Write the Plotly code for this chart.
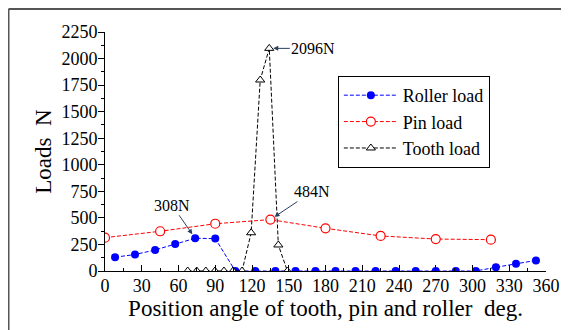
import plotly.graph_objects as go

# roller load (22 rollers, half-pitch offset)
roller_angle = [8.2, 24.5, 40.9, 57.3, 73.6, 90.0, 106.4, 122.7, 139.1, 155.5, 171.8,
                188.2, 204.5, 220.9, 237.3, 253.6, 270.0, 286.4, 302.7, 319.1, 335.5, 351.8]
roller_load = [130, 155, 198, 255, 308, 305, 0, 0, 0, 0, 0,
               0, 0, 0, 0, 0, 0, 0, 0, 35, 68, 100]

# pin load
pin_angle = [0, 45, 90, 135, 180, 225, 270, 315]
pin_load = [314, 374, 445, 484, 402, 330, 301, 295]

# tooth load
tooth_angle = [67.5, 74.9, 82.3, 89.7, 97.1, 104.5, 111.9, 119.3, 126.7, 134.1, 141.5, 148.9]
tooth_load = [0, 0, 0, 0, 0, 0, 0, 360, 1798, 2096, 245, 0]

x_ticks = list(range(0, 361, 30))
y_ticks = list(range(0, 2251, 250))

FONT = "Liberation Serif, Times New Roman, serif"

fig = go.Figure()

fig.add_trace(go.Scatter(
    x=roller_angle, y=roller_load, name='Roller load', mode='lines+markers',
    line=dict(color='#0000ff', width=1, dash='4px,2px'),
    marker=dict(color='#0000ff', size=8, symbol='circle')
))
fig.add_trace(go.Scatter(
    x=pin_angle, y=pin_load, name='Pin load', mode='lines+markers',
    line=dict(color='#ff0000', width=1, dash='4px,2px'),
    marker=dict(color='white', size=9, symbol='circle',
                line=dict(color='#ff0000', width=1.2))
))
fig.add_trace(go.Scatter(
    x=tooth_angle, y=tooth_load, name='Tooth load', mode='lines+markers',
    line=dict(color='black', width=1, dash='4px,2px'),
    marker=dict(color='white', size=8, symbol='triangle-up',
                line=dict(color='black', width=1))
))

# peak value labels
fig.add_annotation(x=134.1, y=2096, text='2096N', showarrow=True, arrowhead=2,
                   arrowsize=1, arrowwidth=1, ax=44, ay=0, standoff=4,
                   font=dict(size=16, family=FONT, color='black'))
fig.add_annotation(x=73.6, y=308, text='308N', showarrow=True, arrowhead=2,
                   arrowsize=1, arrowwidth=1, ax=-23, ay=-33, standoff=5,
                   font=dict(size=16, family=FONT, color='black'))
fig.add_annotation(x=135, y=484, text='484N', showarrow=True, arrowhead=2,
                   arrowsize=1, arrowwidth=1, ax=42, ay=-28, standoff=5,
                   font=dict(size=16, family=FONT, color='black'))

# outer frame lines (top and left)
fig.add_shape(type='line', xref='paper', yref='paper', x0=-0.2188, x1=1.06,
              y0=1.096, y1=1.096, line=dict(color='#555555', width=2))
fig.add_shape(type='line', xref='paper', yref='paper', x0=-0.2188, x1=-0.2188,
              y0=1.096, y1=-0.26, line=dict(color='#555555', width=2))

# page body keeps an 8px margin, so the figure is sized to fit inside the window
fig.update_layout(
    width=561, height=322,
    margin=dict(l=97, r=23, t=24, b=59, autoexpand=False),
    paper_bgcolor='white', plot_bgcolor='white',
    font=dict(family=FONT, size=18, color='black'),
    showlegend=True,
    legend=dict(x=0.528, y=0.816, xanchor='left', yanchor='top',
                bgcolor='white', bordercolor='black', borderwidth=1,
                itemwidth=54, tracegroupgap=0,
                font=dict(size=18, family=FONT)),
    xaxis=dict(
        range=[0, 360], tickvals=x_ticks, showgrid=False, zeroline=False,
        showline=True, linecolor='black', linewidth=1, automargin=False,
        ticks='inside', ticklen=6, tickcolor='black', ticklabelstandoff=-2,
        minor=dict(dtick=15, ticks='inside', ticklen=3, tickcolor='black'),
        title=dict(text='Position angle of tooth, pin and roller  deg.',
                   font=dict(size=23, family=FONT), standoff=0),
        tickfont=dict(size=18, family=FONT),
    ),
    yaxis=dict(
        range=[0, 2250], tickvals=y_ticks, showgrid=False, zeroline=False,
        showline=True, linecolor='black', linewidth=1, automargin=False,
        ticks='outside', ticklen=6, tickcolor='black', ticklabelstandoff=-3,
        minor=dict(dtick=125, ticks='outside', ticklen=3, tickcolor='black'),
        title=dict(text='Loads  N', font=dict(size=23, family=FONT), standoff=3),
        tickfont=dict(size=18, family=FONT),
    ),
)

fig.write_html("out.html")
